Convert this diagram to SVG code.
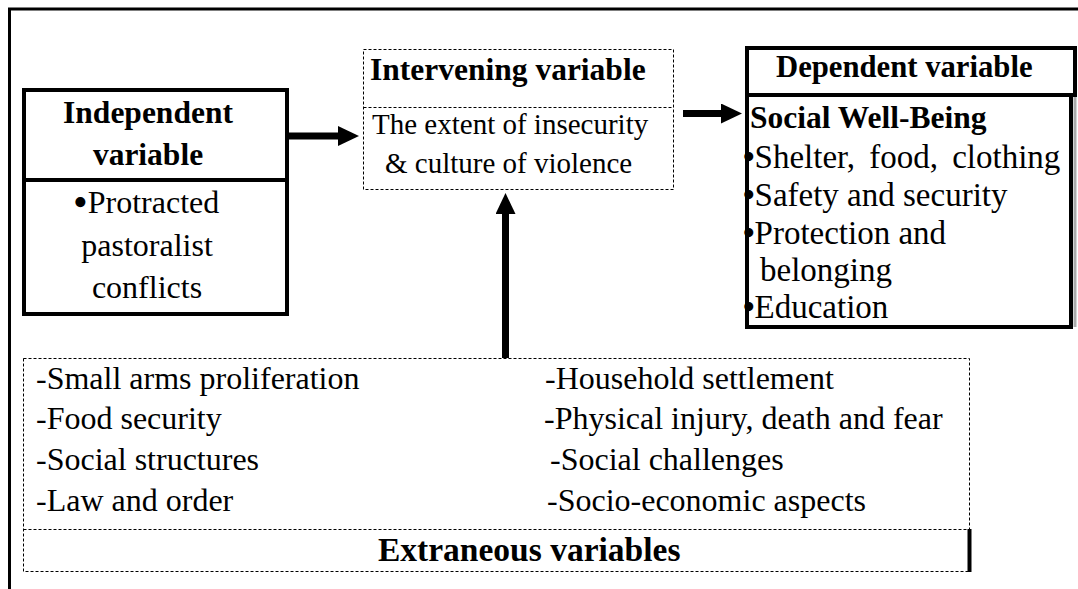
<svg xmlns="http://www.w3.org/2000/svg" width="1078" height="589" viewBox="0 0 1078 589">
<defs>
<style>
.t{font-family:"Liberation Serif","Times New Roman",serif;fill:#000;font-size:31px}
.b{font-weight:bold;font-size:31.5px}
.m{text-anchor:middle}
.r32{font-size:32px}
.r33{font-size:33px}
.bul{font-size:42px}
.bb{font-weight:bold}
.solid{fill:#fff;stroke:#000;stroke-width:4}
.dash{fill:#fff;stroke:#000;stroke-width:1;stroke-dasharray:3 2}
.arr{stroke:#000;stroke-width:7;fill:none;marker-end:url(#ah)}
</style>
<marker id="ah" viewBox="0 0 21 20" markerWidth="21" markerHeight="20" markerUnits="userSpaceOnUse" refX="0" refY="10" orient="auto">
<path d="M0,0 L21,10 L0,20 z" fill="#000"/>
</marker>
</defs>
<rect width="1078" height="589" fill="#fff"/>
<g id="frame">
<line x1="8" y1="9" x2="1078" y2="9" stroke="#000" stroke-width="3"/>
<line x1="9.5" y1="8" x2="9.5" y2="589" stroke="#000" stroke-width="3"/>
</g>
<g id="independent">
<rect class="solid" x="24" y="90" width="263" height="224"/>
<line x1="24" y1="180" x2="287" y2="180" stroke="#000" stroke-width="4"/>
<text class="t b m" x="148" y="123">Independent</text>
<text class="t b m" x="148" y="165">variable</text>
<text class="t r32" x="73" y="213"><tspan class="bul" dy="3">•</tspan><tspan dy="-3">Protracted</tspan></text>
<text class="t r32 m" x="147" y="256">pastoralist</text>
<text class="t r32 m" x="147" y="298">conflicts</text>
</g>
<g id="intervening">
<rect class="dash" x="363.5" y="49.5" width="310" height="140"/>
<line class="dash" x1="363.5" y1="107.5" x2="673.5" y2="107.5"/>
<text class="t b" x="370" y="80">Intervening variable</text>
<text class="t" x="372" y="134" style="font-size:29px">The extent of insecurity</text>
<text class="t" x="385" y="173" style="font-size:29px">&amp; culture of violence</text>
</g>
<g id="dependent">
<line x1="1075" y1="95" x2="1075" y2="327" stroke="#aaa" stroke-width="3"/>
<rect class="solid" x="747" y="95" width="324" height="232"/>
<rect class="solid" x="747" y="48" width="328" height="47"/>
<text class="t b" x="776" y="77" style="font-size:30.7px">Dependent variable</text>
<text class="t b" x="750" y="128">Social Well-Being</text>
<text class="t r33" x="743" y="168" style="word-spacing:6px"><tspan class="bb">•</tspan>Shelter, food, clothing</text>
<text class="t r33" x="743" y="206"><tspan class="bb">•</tspan>Safety and security</text>
<text class="t r33" x="743" y="244"><tspan class="bb">•</tspan>Protection and</text>
<text class="t r33" x="760" y="281">belonging</text>
<text class="t r33" x="743" y="318"><tspan class="bb">•</tspan>Education</text>
</g>
<g id="extraneous">
<rect class="dash" x="23.5" y="358.5" width="946" height="213"/>
<line class="dash" x1="23.5" y1="529.5" x2="969.5" y2="529.5"/>
<line x1="969.5" y1="529" x2="969.5" y2="572" stroke="#000" stroke-width="4"/>
<text class="t r32" x="36" y="389">-Small arms proliferation</text>
<text class="t r32" x="36" y="429">-Food security</text>
<text class="t r32" x="36" y="470">-Social structures</text>
<text class="t r32" x="36" y="511">-Law and order</text>
<text class="t r32" x="545" y="389">-Household settlement</text>
<text class="t r32" x="544" y="429">-Physical injury, death and fear</text>
<text class="t r32" x="550" y="470">-Social challenges</text>
<text class="t r32" x="547" y="511">-Socio-economic aspects</text>
<text class="t b" x="378" y="561" style="font-size:33.5px">Extraneous variables</text>
</g>
<g id="connectors">
<line class="arr" x1="287" y1="136" x2="338" y2="136"/>
<line class="arr" x1="683" y1="113.5" x2="721" y2="113.5"/>
<line class="arr" x1="505.5" y1="358" x2="505.5" y2="214"/>
</g>
</svg>
